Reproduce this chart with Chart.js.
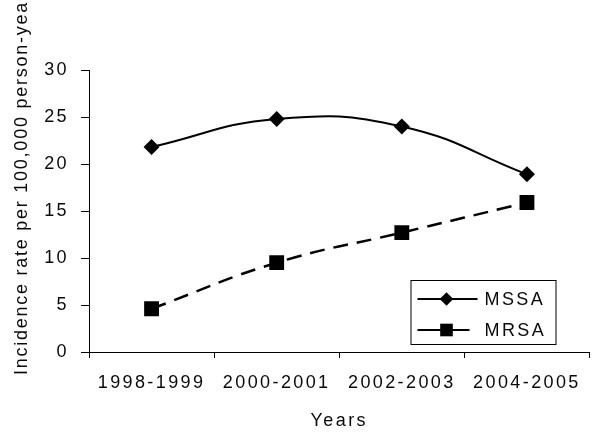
<!DOCTYPE html>
<html>
<head>
<meta charset="utf-8">
<script src="https://cdn.jsdelivr.net/npm/chart.js@4"></script>
<style>
  html,body{margin:0;padding:0;background:#fff;}
  canvas{display:block;}
</style>
</head>
<body>
<canvas id="grafico" width="600" height="433"></canvas>
<script>
// datos
const periodos=['1998-1999','2000-2001','2002-2003','2004-2005'];
const valoresMSSA=[21.8,24.8,24.0,18.9];
const valoresMRSA=[4.6,9.5,12.7,15.9];
const ticksY=[0,5,10,15,20,25,30];
const tituloY='Incidence rate per 100,000 person-years';
const tituloX='Years';

const fuente={family:'"Liberation Sans", Arial, sans-serif',size:18};
const colorTexto='#0a0a0a';

// espaciado entre letras como en el original
const pluginEspaciado={
    id:'espaciado',
    beforeLayout(chart){chart.ctx.letterSpacing='2.4px';},
    beforeDraw(chart){chart.ctx.letterSpacing='2.4px';}
};

// titulo del eje y, empieza abajo y se corta arriba
const pluginTituloY={
    id:'tituloY',
    afterDraw(chart)
    {
        const ctx=chart.ctx;
        ctx.save();
        ctx.letterSpacing='1.75px';
        ctx.translate(27,375);
        ctx.rotate(-Math.PI/2);
        ctx.font=`${fuente.size}px ${fuente.family}`;
        ctx.fillStyle=colorTexto;
        ctx.textAlign='left';
        ctx.textBaseline='alphabetic';
        ctx.fillText(tituloY,0,0);
        ctx.restore();
    }
};

// leyenda dentro del area del grafico con recuadro
const pluginLeyenda={
    id:'leyendaCaja',
    afterDraw(chart)
    {
        const ctx=chart.ctx;
        const area=chart.chartArea;
        const x1=area.right-179,x2=area.right-34;
        const y1=area.bottom-72,y2=area.bottom-8;
        ctx.save();
        ctx.strokeStyle='#000';
        ctx.lineWidth=1;
        ctx.strokeRect(x1+0.5,y1+0.5,x2-x1,y2-y1);
        chart.data.datasets.forEach((ds,i)=>
        {
            const y=y1+19+i*31;
            const finLinea=i===0?x1+67:x1+59;
            ctx.beginPath();
            ctx.setLineDash([]);
            ctx.lineWidth=2;
            ctx.strokeStyle='#000';
            ctx.moveTo(x1+7,y);
            ctx.lineTo(finLinea,y);
            ctx.stroke();
            ctx.fillStyle='#000';
            Chart.helpers.drawPoint(ctx,{pointStyle:ds.pointStyle,radius:ds.pointRadius*0.85,borderWidth:0},x1+36,y);
            ctx.font=`${fuente.size}px ${fuente.family}`;
            ctx.fillStyle=colorTexto;
            ctx.textAlign='left';
            ctx.textBaseline='middle';
            ctx.fillText(ds.label,x1+74,y+1);
        });
        ctx.restore();
    }
};

new Chart(document.getElementById('grafico'),{
    type:'line',
    data:{
        labels:periodos,
        datasets:[
            {
                label:'MSSA',
                data:valoresMSSA,
                borderColor:'#000',
                backgroundColor:'#000',
                borderWidth:2,
                tension:0.45,
                pointStyle:'rectRot',
                pointRadius:8,
                pointBorderWidth:0
            },
            {
                label:'MRSA',
                data:valoresMRSA,
                borderColor:'#000',
                backgroundColor:'#000',
                borderWidth:2.5,
                borderDash:[15,9],
                tension:0.45,
                pointStyle:'rect',
                pointRadius:10.5,
                pointBorderWidth:0
            }
        ]
    },
    options:{
        responsive:false,
        animation:false,
        layout:{padding:{top:70,right:8,left:0,bottom:0}},
        plugins:{
            legend:{display:false},
            tooltip:{enabled:false}
        },
        scales:{
            x:{
                offset:true,
                grid:{offset:true,drawOnChartArea:false,drawTicks:true,tickLength:6,color:'#000'},
                border:{color:'#000',width:1},
                ticks:{font:fuente,color:colorTexto,padding:14,maxRotation:0},
                title:{display:true,text:tituloX,font:fuente,color:colorTexto,padding:{top:0,bottom:1}},
                afterFit(scale){scale.height=81;}
            },
            y:{
                min:ticksY[0],
                max:ticksY[ticksY.length-1],
                afterBuildTicks(scale){scale.ticks=ticksY.map(v=>({value:v}));},
                grid:{drawOnChartArea:false,drawTicks:true,tickLength:8,color:'#000'},
                border:{color:'#000',width:1},
                ticks:{font:fuente,color:colorTexto,padding:12},
                afterFit(scale){scale.width=89;}
            }
        }
    },
    plugins:[pluginEspaciado,pluginTituloY,pluginLeyenda]
});
</script>
</body>
</html>
